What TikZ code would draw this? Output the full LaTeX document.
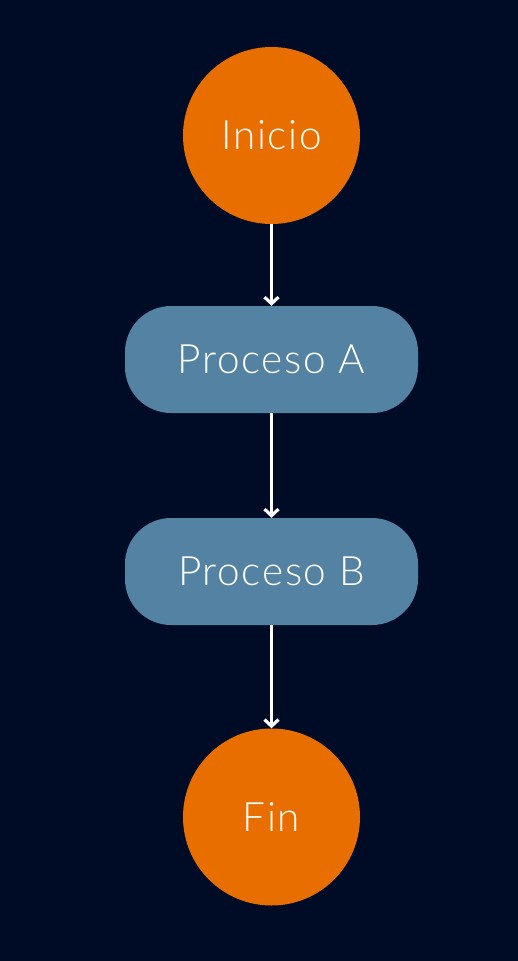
\documentclass[tikz,border=0pt]{standalone}
\usepackage{fontspec}
\IfFontExistsTF{Lato Light}{\setmainfont{Lato Light}[LetterSpace=4]}{\setmainfont{Lato}[LetterSpace=4]}
\usetikzlibrary{arrows.meta}
\definecolor{bgnavy}{HTML}{000C26}
\definecolor{termorange}{HTML}{E86E00}
\definecolor{procblue}{HTML}{5482A2}
\begin{document}
\begin{tikzpicture}[x=1pt,y=-1pt,
  terminal/.style={circle,fill=termorange,minimum size=177pt,inner sep=0pt,text=white,font=\fontsize{40.5}{44}\selectfont},
  process/.style={rectangle,rounded corners=46pt,fill=procblue,minimum width=293pt,minimum height=107pt,inner sep=0pt,text=white,font=\fontsize{40.5}{44}\selectfont},
  flow/.style={draw=white,line width=3.2pt,-{Straight Barb[length=6.5pt,width=14pt,line width=3.2pt]}}]
\fill[bgnavy] (0,0) rectangle (518,961);
\useasboundingbox (0,0) rectangle (518,961);
\node[terminal] (inicio) at (271.5,135.5) {Inicio};
\node[process] (pa) at (271.5,359.5) {Proceso A};
\node[process] (pb) at (271.5,571.5) {Proceso B};
\node[terminal] (fin) at (271.5,817) {Fin};
\draw[flow] (inicio) -- (pa);
\draw[flow] (pa) -- (pb);
\draw[flow] (pb) -- (fin);
\end{tikzpicture}
\end{document}
